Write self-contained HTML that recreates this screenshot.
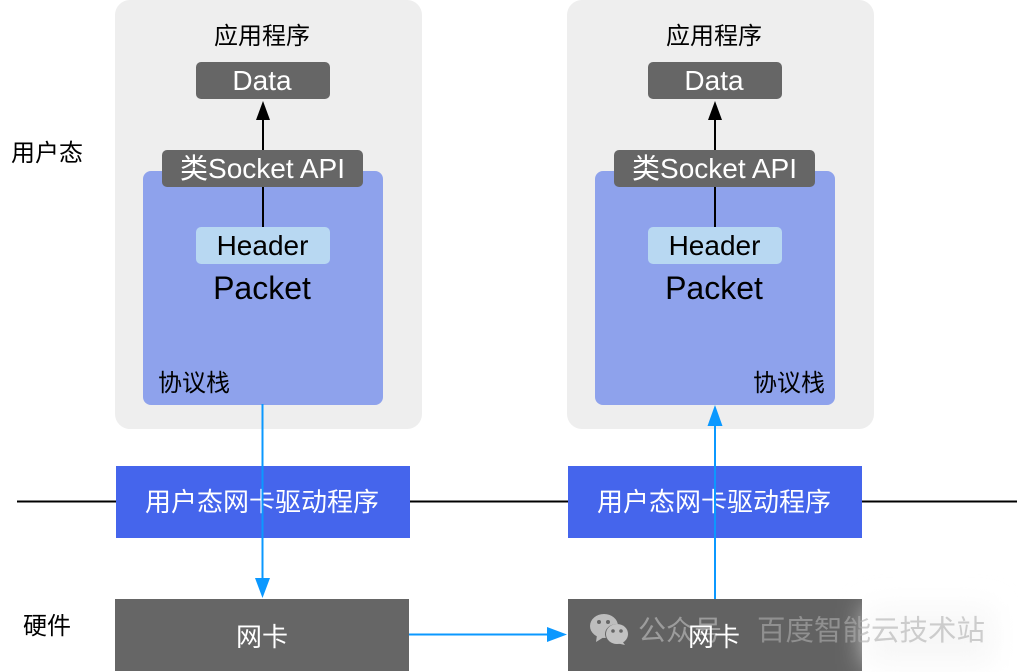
<!DOCTYPE html>
<html><head><meta charset="utf-8"><style>
html,body{margin:0;padding:0;background:#fff}
body{width:1018px;height:672px;overflow:hidden;position:relative}
svg{position:absolute;left:0;top:0}
text{font-family:"Liberation Sans","Noto Sans CJK SC",sans-serif;text-anchor:middle}
.b{font-size:24px;fill:#000}.w{font-size:26px;fill:#fff}
</style></head><body>
<svg width="1018" height="672" viewBox="0 0 1018 672">
<defs>
<filter id="bl" x="-30%" y="-80%" width="160%" height="260%"><feGaussianBlur stdDeviation="14"/></filter>
<g id="stack">
<rect x="115" y="0" width="307" height="429" rx="15" fill="#eeeeee"/>
<rect x="143" y="171" width="240" height="234" rx="8" fill="#8ea2ec"/>
<text x="262" y="44" class="b">应用程序</text>
<line x1="263" y1="118" x2="263" y2="150" stroke="#000" stroke-width="2"/>
<polygon points="263,101 256,120 270,120" fill="#000"/>
<rect x="196" y="62" width="134" height="37" rx="5" fill="#666"/>
<text x="262" y="90" class="w" style="font-size:28px">Data</text>
<line x1="263" y1="187" x2="263" y2="227" stroke="#000" stroke-width="2"/>
<rect x="162" y="150" width="201" height="37" rx="5" fill="#666"/>
<text x="262.500" y="178" class="w" style="font-size:28px">类Socket API</text>
<rect x="196" y="227" width="134" height="37" rx="5" fill="#b8d8f2"/>
<text x="262.500" y="255" class="b" style="font-size:28px">Header</text>
<text x="262" y="299" class="b" style="font-size:32px">Packet</text>
</g>
</defs>
<line x1="17" y1="501.500" x2="1017" y2="501.500" stroke="#000" stroke-width="2"/>
<use href="#stack"/>
<use href="#stack" x="452"/>
<text x="194" y="391" class="b">协议栈</text>
<text x="789" y="391" class="b">协议栈</text>
<text x="47" y="161" class="b">用户态</text>
<text x="47" y="634" class="b">硬件</text>
<rect x="116" y="466" width="294" height="72" fill="#4565ec"/>
<rect x="568" y="466" width="294" height="72" fill="#4565ec"/>
<text x="262" y="511" class="w">用户态网卡驱动程序</text>
<text x="714" y="511" class="w">用户态网卡驱动程序</text>
<rect x="115" y="599" width="294" height="72" fill="#666"/>
<rect x="568" y="599" width="294" height="72" fill="#626262"/>
<text x="262" y="646" class="w">网卡</text>
<line x1="262.500" y1="404" x2="262.500" y2="580" stroke="#0b98ff" stroke-width="2"/>
<polygon points="255,578 270,578 262.500,598" fill="#0b98ff"/>
<line x1="409" y1="634.500" x2="550" y2="634.500" stroke="#0b98ff" stroke-width="2"/>
<polygon points="547,627 547,642 567,634.500" fill="#0b98ff"/>
<line x1="715" y1="425" x2="715" y2="599" stroke="#0b98ff" stroke-width="2"/>
<polygon points="715,405 707.500,426 722.500,426" fill="#0b98ff"/>
<rect x="868" y="608" width="125" height="56" fill="#f7f7f7" filter="url(#bl)"/>
<g>
<ellipse cx="604" cy="626" rx="14" ry="12" fill="#bdbdbd"/>
<polygon points="597,635 596,642 604,637" fill="#bdbdbd"/>
<ellipse cx="617" cy="634" rx="12" ry="10" fill="#666"/>
<ellipse cx="617" cy="634" rx="11" ry="10" fill="#c2c2c2"/>
<polygon points="622,641 625,645 616,643" fill="#c2c2c2"/>
<circle cx="599" cy="622" r="2" fill="#666"/><circle cx="608" cy="622" r="2" fill="#666"/>
<circle cx="613" cy="631" r="1.800" fill="#666"/><circle cx="621" cy="631" r="1.800" fill="#666"/>
</g>
<text x="680" y="640" style="font-size:28px" fill="#a3a3a3" opacity="0.9">公众号</text>
<text x="871" y="640" style="font-size:28.500px" fill="#b0b0b0" opacity="0.6">百度智能云技术站</text>
<text x="714" y="646" class="w">网卡</text>
</svg>
</body></html>
